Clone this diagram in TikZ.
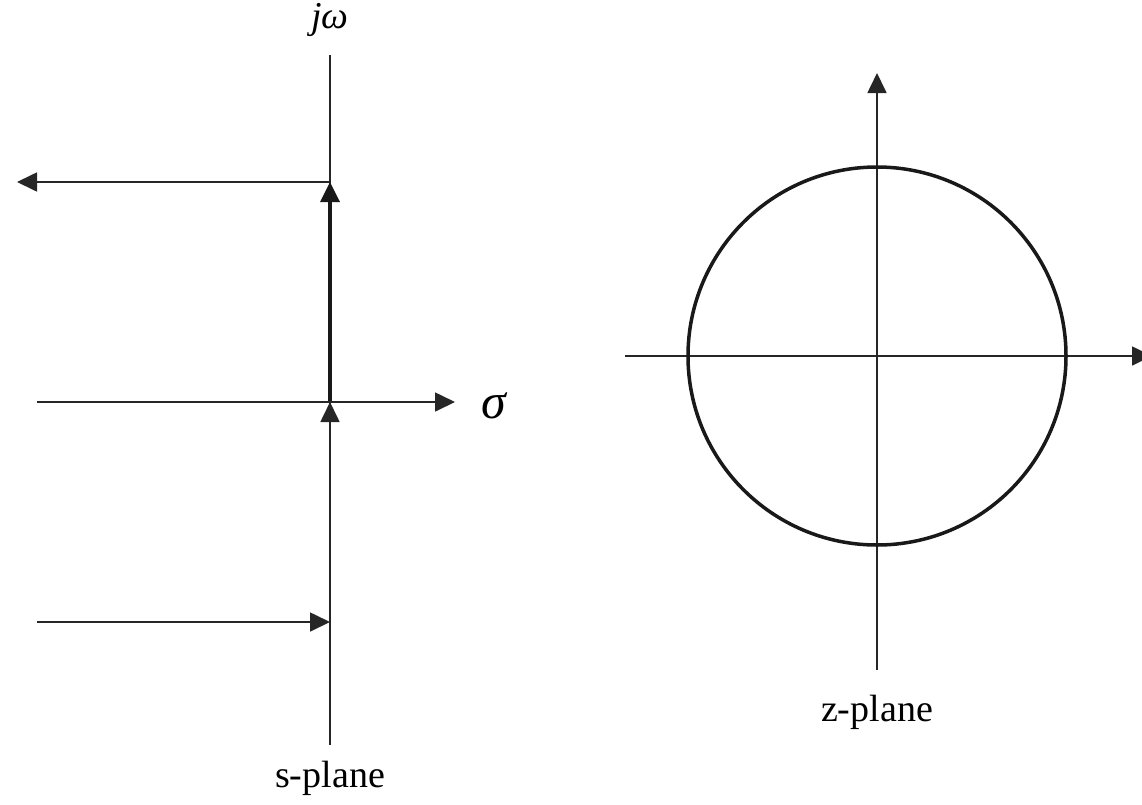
\documentclass[tikz,border=0pt]{standalone}
\usepackage{fontspec}
\setmainfont{Liberation Serif}
\usetikzlibrary{arrows.meta}
\begin{document}
\begin{tikzpicture}[x=1pt,y=-1pt,
  axis/.style={line width=1.7pt,draw=black!85},
  thick axis/.style={line width=3.5pt,draw=black!90},
  tip/.style={-{Triangle[length=20pt,width=19pt]}},
  lbl/.style={font=\fontsize{38}{44}\selectfont,inner sep=0pt}]
\useasboundingbox (0,0) rectangle (1142,804);
% s-plane
\coordinate (jtop) at (330,55);
\coordinate (jbot) at (330,745);
\coordinate (up) at (330,182);
\coordinate (origin) at (330,402);
\coordinate (left) at (17,182);
\coordinate (sl) at (37,402);
\coordinate (sr) at (455,402);
\coordinate (bl) at (37,622);
\coordinate (br) at (330,622);
\coordinate (below) at (330,440);
\draw[axis] (jtop) -- (jbot);
\draw[axis,tip] (up) -- (left);
\draw[thick axis,tip] (origin) -- (up);
\draw[axis,tip] (sl) -- (sr);
\draw[axis,tip] (below) -- (origin);
\draw[axis,tip] (bl) -- (br);
\node[lbl] (jw) at (330,20) {\itshape jω};
\node[lbl,font=\fontsize{50}{54}\selectfont] (sigma) at (494,406) {\itshape σ};
\node[lbl] (splane) at (330,778) {s-plane};
% z-plane
\coordinate (zc) at (877,356);
\coordinate (zl) at (625,356);
\coordinate (zr) at (1152,356);
\coordinate (zb) at (877,670);
\coordinate (zt) at (877,73);
\draw[axis,tip] (zl) -- (zr);
\draw[axis,tip] (zb) -- (zt);
\draw[thick axis] (zc) circle[radius=189];
\node[lbl] (zplane) at (877,712) {z-plane};
\end{tikzpicture}
\end{document}
